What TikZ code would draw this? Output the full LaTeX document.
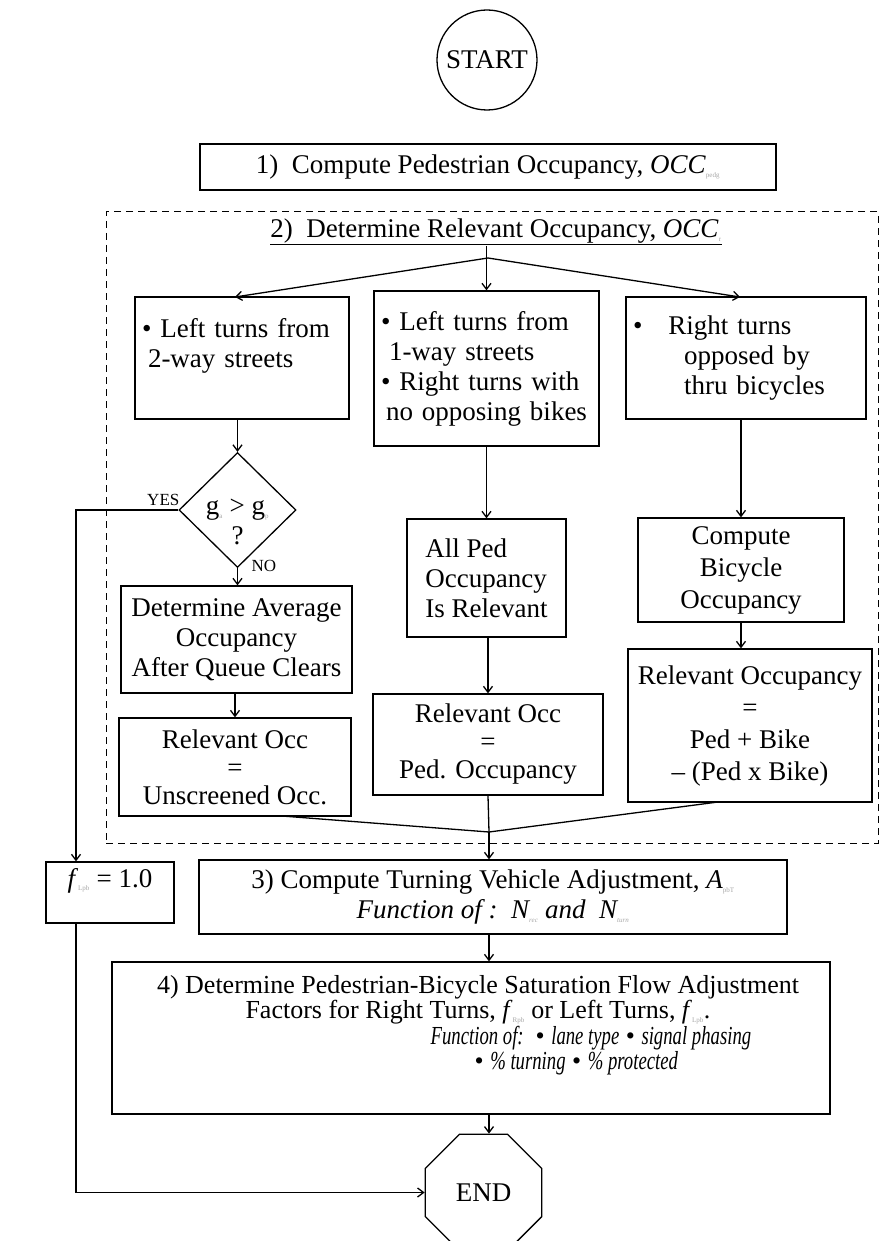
\documentclass[tikz,border=0pt]{standalone}
\usepackage{fontspec}
\setmainfont{Liberation Serif}
\usetikzlibrary{arrows.meta,shapes.geometric}
\newcommand{\lowsub}[1]{\textsubscript{\textcolor{gray!70}{\fontsize{7}{7}\selectfont #1}}}
\newcommand{\narrowit}[1]{\scalebox{0.72}[1]{\textit{#1}}}

\begin{document}
\begin{tikzpicture}[x=1pt,y=-1pt,>={Straight Barb[length=6pt,width=9pt]},line width=1.3pt,
  every node/.style={font=\fontsize{27}{30}\selectfont},
  box/.style={draw,rectangle,inner sep=0pt},
  listbox/.style={box,align=left,inner xsep=7pt},
  small/.style={font=\fontsize{17}{17}\selectfont,inner sep=0pt}]
  \useasboundingbox (0,0) rectangle (894,1241);
  \node[circle,draw,minimum size=100pt,inner sep=0pt] (start) at (487,60) {START};
  \node[box,minimum width=576pt,minimum height=46pt] (b1) at (488,167) {1)~ Compute Pedestrian Occupancy, \textit{OCC}\lowsub{pedg}};
  \node[box,dashed,dash pattern=on 7pt off 5pt,line width=1pt,minimum width=772pt,minimum height=631pt] (grp) at (492,527.5) {};
  \node[inner sep=0pt] (ttl) at (496,232) {\underline{2)~ Determine Relevant Occupancy, \textit{OCC}\lowsub{r}}};
  \coordinate (jn) at (488,258);
  % the three cases
  \node[listbox,minimum width=214pt,minimum height=122pt,text width=200pt] (lt) at (242,358) {\textbullet\ Left turns from\\\hspace*{6pt}2-way streets\\ \mbox{}};
  \node[listbox,minimum width=225pt,minimum height=155pt,text width=211pt] (mt) at (486.5,368.5) {\textbullet\ Left turns from\\\hspace*{8pt}1-way streets\\\textbullet\ Right turns with\\\hspace*{5pt}no opposing bikes};
  \node[listbox,minimum width=240pt,minimum height=122pt,text width=226pt] (rt) at (746,358) {\textbullet\hspace{26pt}Right turns\\\hspace*{51pt}opposed by\\\hspace*{51pt}thru bicycles};
  \draw[->] (mt.north |- ttl.south) -- (mt.north);
  \draw[->] (jn) -- (235,297);
  \draw[->] (jn) -- (740,297);
  % left column
  \node[diamond,draw,minimum width=117pt,minimum height=115pt,inner sep=0pt] (dec) at (237.5,510) {};
  \node[align=center,inner sep=0pt] (dq) at (237.5,522) {g\lowsub{a} > g\lowsub{p}\\?};
  \node[small,anchor=south east] (yes) at (180,506) {YES};
  \node[small,anchor=west] (no) at (251,566) {NO};
  \node[box,minimum width=231pt,minimum height=107pt,align=center] (avg) at (236.5,639.5) {Determine Average\\Occupancy\\After Queue Clears};
  \node[box,minimum width=232pt,minimum height=98pt,align=center,font=\fontsize{27}{28}\selectfont] (uns) at (235,767) {Relevant Occ\\=\\Unscreened Occ.};
  \draw[->] (lt.south -| dec.north) -- (dec.north);
  \draw[->] (dec.south) -- (dec.south |- avg.north);
  \draw[->] (avg.south -| uns.north) -- (uns.north);
  % middle column
  \node[box,minimum width=159pt,minimum height=118pt,align=left] (allp) at (486.5,578) {All Ped\\Occupancy\\Is Relevant};
  \node[box,minimum width=230pt,minimum height=101pt,align=center,font=\fontsize{27}{28}\selectfont] (rocc) at (488,744.5) {Relevant Occ\\=\\Ped. Occupancy};
  \draw[->] (mt.south -| allp.north) -- (allp.north);
  \draw[->] (allp.south -| rocc.north) -- (rocc.north);
  % right column
  \node[box,minimum width=206pt,minimum height=104pt,align=center,font=\fontsize{27}{32}\selectfont] (cbk) at (741,570) {Compute\\Bicycle\\Occupancy};
  \node[box,minimum width=244pt,minimum height=153pt,align=center,font=\fontsize{27}{32}\selectfont] (rocc2) at (750,725.5) {Relevant Occupancy\\=\\Ped + Bike\\– (Ped x Bike)};
  \draw[->] (741,419) -- (cbk.north);
  \draw[->] (cbk.south) -- (cbk.south |- rocc2.north);
  % merge into step 3
  \coordinate (jn2) at (489,832);
  \node[box,minimum width=588pt,minimum height=74pt,align=center] (b3) at (493,897) {3) Compute Turning Vehicle Adjustment, \textit{A}\lowsub{pbT}\\\textit{Function of :\ \ N\lowsub{rec} and\ \ N\lowsub{turn}}};
  \draw (282,816) -- (jn2);
  \draw (718,802) -- (jn2);
  \draw (rocc.south) -- (jn2);
  \draw[->] (jn2) -- (jn2 |- b3.north);
  % YES branch
  \node[box,minimum width=128pt,minimum height=61pt,align=left] (fbox) at (110,892.5) {\textit{f}\lowsub{Lpb} = 1.0\\ \mbox{}};
  \coordinate (yk) at (76,510);
  \draw[->] (dec.west) -- (yk) -- (yk |- fbox.north);
  % step 4 and end
  \node[box,minimum width=718pt,minimum height=152pt] (b4) at (471,1038) {};
  \node[anchor=north,align=center,inner sep=0pt,font=\fontsize{26}{21}\selectfont] (b4t) at (478,975) {4) Determine Pedestrian-Bicycle Saturation Flow Adjustment\\Factors for Right Turns, \textit{f}\lowsub{Rpb} or Left Turns, \textit{f}\lowsub{Lpb}.};
  \node[anchor=north west,align=left,inner sep=0pt,font=\fontsize{26}{25}\selectfont] (fn) at (430,1026) {\narrowit{Function of:}\hspace{12pt}\textbullet\ \narrowit{lane type} \textbullet\ \narrowit{signal phasing}\\\hspace*{44pt}\textbullet\ \narrowit{\% turning} \textbullet\ \narrowit{\% protected}};
  \draw[->] (jn2 |- b3.south) -- (jn2 |- b4.north);
  \node[regular polygon,regular polygon sides=8,draw,minimum size=126pt,inner sep=0pt] (fin) at (483.5,1192.5) {END};
  \draw[->] (jn2 |- b4.south) -- (jn2 |- fin.north);
  \draw[->] (yk |- fbox.south) -- (yk |- fin.west) -- (fin.west);
\end{tikzpicture}
\end{document}
